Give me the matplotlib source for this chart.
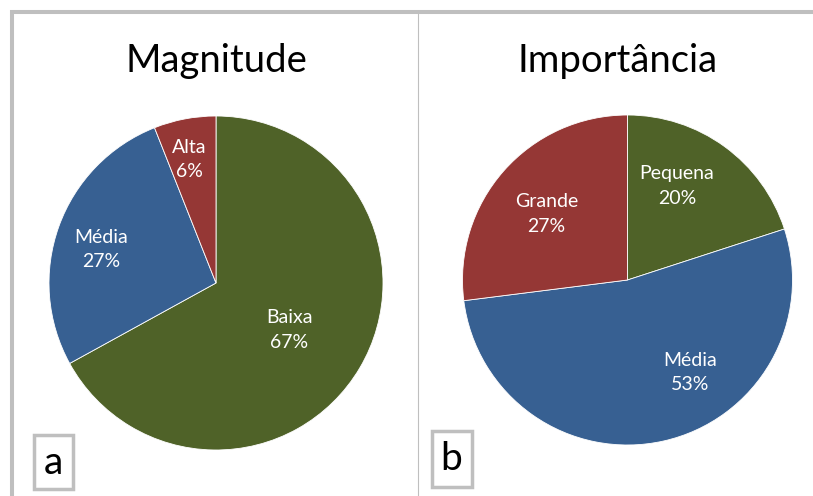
import matplotlib.pyplot as plt
from matplotlib.patches import Rectangle

# data
mag_labels = ['Baixa', 'Média', 'Alta']
mag_values = [67, 27, 6]
imp_labels = ['Pequena', 'Média', 'Grande']
imp_values = [20, 53, 27]

green = '#4F6228'
blue = '#376092'
red = '#953735'
gray = '#BFBFBF'
H = 496

plt.rcParams['font.family'] = ['Lato', 'DejaVu Sans']

fig = plt.figure(figsize=(8.13, 4.96), dpi=100)
ax = fig.add_axes([0, 0, 1, 1])


def draw_pie(values, labels, colors, cx, cy, r, label_pos):
    wedges, _ = ax.pie(values, colors=colors, startangle=90, counterclock=False,
                       center=(cx, H - cy), radius=r, frame=True,
                       wedgeprops=dict(linewidth=0.6, edgecolor='white'))
    for lab, v, (px, py) in zip(labels, values, label_pos):
        ax.text(cx + px * r, H - cy + py * r, f'{lab}\n{v}%', color='white',
                fontsize=14, ha='center', va='center', linespacing=1.55)


draw_pie(mag_values, mag_labels, [green, blue, red], 216, 283, 167,
         [(0.44, -0.28), (-0.69, 0.20), (-0.16, 0.74)])
draw_pie(imp_values, imp_labels, [green, blue, red], 627.5, 280, 165,
         [(0.30, 0.57), (0.38, -0.56), (-0.49, 0.40)])
ax.set_xlim(0, 813)
ax.set_ylim(0, H)
ax.set_aspect('auto')
ax.axis('off')

ax.text(216, H - 61, 'Magnitude', fontsize=27.5, ha='center', va='center')
ax.text(618, H - 61, 'Importância', fontsize=27.5, ha='center', va='center')

# frames
ax.plot([10, 813], [H - 12, H - 12], color=gray, lw=2.9, solid_capstyle='butt')
ax.plot([11.5, 11.5], [0, H - 10], color=gray, lw=2.9, solid_capstyle='butt')
ax.plot([418, 418], [0, H - 12], color=gray, lw=0.8)

for x0, y0, x1, y1, letter in [(33.5, 434.5, 72.5, 489, 'a'), (431.5, 430.5, 471.5, 486.5, 'b')]:
    ax.add_patch(Rectangle((x0, H - y1), x1 - x0, y1 - y0, fill=False,
                           edgecolor=gray, lw=2.5))
    ax.text((x0 + x1) / 2, H - (y0 + y1) / 2 - 1, letter, fontsize=28,
            ha='center', va='center')

fig.savefig('out.png', dpi=100)
